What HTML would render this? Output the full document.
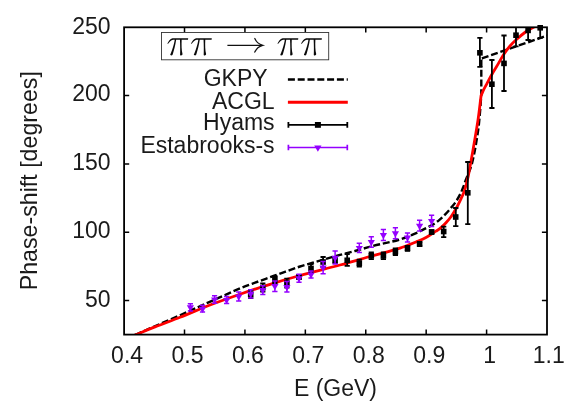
<!DOCTYPE html>
<html><head><meta charset="utf-8"><title>pipi phase shift</title>
<style>html,body{margin:0;padding:0;background:#fff;}body{width:581px;height:407px;overflow:hidden;font-family:"Liberation Sans",sans-serif;}svg{display:block;will-change:transform;}</style>
</head><body>
<svg width="581" height="407" viewBox="0 0 581 407">
<rect x="0" y="0" width="581" height="407" fill="#fff"/>
<defs><clipPath id="cp"><rect x="124.10" y="27.30" width="422.90" height="307.30"/></clipPath></defs>
<g clip-path="url(#cp)" fill="none" stroke-linejoin="round">
<path d="M126.00 338.80C129.33 337.37 132.67 335.95 136.00 334.50C144.01 331.01 152.00 327.49 160.00 324.00C166.66 321.09 173.36 318.26 180.00 315.30C187.36 312.02 194.65 308.61 202.00 305.30C209.99 301.71 218.00 298.16 226.00 294.60C230.66 292.53 235.29 290.36 240.00 288.40C243.95 286.76 247.98 285.28 252.00 283.80C259.65 280.98 267.33 278.26 275.00 275.50C283.33 272.50 291.61 269.33 300.00 266.50C303.95 265.17 308.00 264.16 312.00 263.00C321.33 260.29 330.64 257.51 340.00 254.90C344.98 253.51 350.01 252.36 355.00 251.00C360.68 249.46 366.30 247.66 372.00 246.20C381.30 243.82 390.81 242.19 400.00 239.50C405.14 237.99 410.08 235.75 415.00 233.60C419.22 231.75 423.31 229.62 427.40 227.50C429.98 226.16 432.57 224.78 435.00 223.20C436.77 222.05 438.40 220.68 440.00 219.30C441.73 217.81 443.41 216.24 445.00 214.60C447.05 212.48 449.00 210.26 450.90 208.00C452.67 205.89 454.48 203.79 456.00 201.50C457.68 198.99 459.13 196.30 460.50 193.60C461.53 191.57 462.38 189.43 463.20 187.30C464.08 185.03 464.76 182.69 465.60 180.40C467.69 174.72 470.51 169.25 472.00 163.40C474.61 153.11 476.28 142.52 477.90 132.00C479.02 124.72 479.54 117.34 480.20 110.00C480.68 104.68 480.93 99.33 481.30 94.00L481.3 60.0L480.4 58.9L546.0 36.0L552.0 33.9" stroke="#000" stroke-width="2.4" stroke-dasharray="7 2.8"/>
<path d="M126.00 339.00C129.43 337.55 132.86 336.09 136.30 334.65C142.53 332.05 148.73 329.39 155.00 326.90C163.30 323.61 171.71 320.60 180.00 317.30C190.04 313.30 199.92 308.88 210.00 305.00C219.92 301.18 229.95 297.67 240.00 294.20C249.95 290.77 259.95 287.43 270.00 284.30C279.95 281.20 289.95 278.27 300.00 275.50C313.29 271.84 326.69 268.60 340.00 265.00C350.69 262.10 361.33 258.99 372.00 256.00C381.33 253.39 390.78 251.13 400.00 248.20C405.44 246.47 410.70 244.16 416.00 242.00C419.37 240.63 422.81 239.33 426.00 237.60C429.47 235.73 432.71 233.39 436.00 231.20C437.71 230.06 439.44 228.93 441.00 227.60C442.77 226.09 444.42 224.41 446.00 222.70C447.75 220.81 449.50 218.89 451.00 216.80C452.83 214.25 454.47 211.55 456.00 208.80C457.81 205.55 459.39 202.16 461.00 198.80C461.99 196.73 462.99 194.65 463.80 192.50C464.66 190.21 465.36 187.86 466.00 185.50C466.86 182.36 467.63 179.19 468.30 176.00C469.06 172.35 469.64 168.67 470.30 165.00C471.20 160.00 472.14 155.01 473.00 150.00C474.71 140.01 476.51 130.03 478.00 120.00C479.21 111.86 480.07 103.67 481.10 95.50L481.10 95.80C481.80 94.07 482.42 92.30 483.20 90.60C483.99 88.90 484.91 87.26 485.80 85.60C487.75 81.96 489.65 78.29 491.70 74.70C493.59 71.39 495.65 68.18 497.60 64.90C499.75 61.28 501.69 57.52 504.00 54.00C505.83 51.22 507.82 48.51 510.00 46.00C512.16 43.51 514.55 41.21 517.00 39.00C519.72 36.54 522.55 34.17 525.50 32.00C527.55 30.50 529.76 29.19 532.00 28.00C534.59 26.62 537.33 25.53 540.00 24.30" stroke="#ff0000" stroke-width="2.8"/>
</g>
<g stroke="#000" stroke-width="1.8" fill="#000">
<path d="M250.7 290.4V298.0M248.1 290.4H253.3M248.1 298.0H253.3" fill="none"/>
<rect x="247.9" y="291.4" width="5.6" height="5.6" stroke="none"/>
<path d="M262.8 283.4V291.5M260.2 283.4H265.4M260.2 291.5H265.4" fill="none"/>
<rect x="260.0" y="284.7" width="5.6" height="5.6" stroke="none"/>
<path d="M274.9 276.2V283.0M272.2 276.2H277.5M272.2 283.0H277.5" fill="none"/>
<rect x="272.1" y="276.4" width="5.6" height="5.6" stroke="none"/>
<path d="M286.9 278.7V287.5M284.3 278.7H289.5M284.3 287.5H289.5" fill="none"/>
<rect x="284.1" y="280.2" width="5.6" height="5.6" stroke="none"/>
<path d="M299.0 275.0V279.0M296.4 275.0H301.6M296.4 279.0H301.6" fill="none"/>
<rect x="296.2" y="274.2" width="5.6" height="5.6" stroke="none"/>
<path d="M311.0 264.0V272.5M308.4 264.0H313.6M308.4 272.5H313.6" fill="none"/>
<rect x="308.2" y="265.6" width="5.6" height="5.6" stroke="none"/>
<path d="M323.1 257.0V267.0M320.5 257.0H325.7M320.5 267.0H325.7" fill="none"/>
<rect x="320.3" y="259.2" width="5.6" height="5.6" stroke="none"/>
<path d="M335.1 257.0V263.0M332.5 257.0H337.8M332.5 263.0H337.8" fill="none"/>
<rect x="332.3" y="257.2" width="5.6" height="5.6" stroke="none"/>
<path d="M347.2 254.2V265.8M344.6 254.2H349.8M344.6 265.8H349.8" fill="none"/>
<rect x="344.4" y="257.5" width="5.6" height="5.6" stroke="none"/>
<path d="M359.3 259.7V266.7M356.7 259.7H361.9M356.7 266.7H361.9" fill="none"/>
<rect x="356.5" y="260.4" width="5.6" height="5.6" stroke="none"/>
<path d="M371.3 252.5V259.1M368.7 252.5H373.9M368.7 259.1H373.9" fill="none"/>
<rect x="368.5" y="253.0" width="5.6" height="5.6" stroke="none"/>
<path d="M383.4 252.5V259.1M380.8 252.5H386.0M380.8 259.1H386.0" fill="none"/>
<rect x="380.6" y="253.0" width="5.6" height="5.6" stroke="none"/>
<path d="M395.4 248.3V255.0M392.8 248.3H398.0M392.8 255.0H398.0" fill="none"/>
<rect x="392.6" y="248.9" width="5.6" height="5.6" stroke="none"/>
<path d="M407.5 246.0V250.9M404.9 246.0H410.1M404.9 250.9H410.1" fill="none"/>
<rect x="404.7" y="245.6" width="5.6" height="5.6" stroke="none"/>
<path d="M419.6 242.0V246.0M417.0 242.0H422.2M417.0 246.0H422.2" fill="none"/>
<rect x="416.8" y="241.2" width="5.6" height="5.6" stroke="none"/>
<path d="M431.6 230.2V233.8M429.0 230.2H434.2M429.0 233.8H434.2" fill="none"/>
<rect x="428.8" y="229.2" width="5.6" height="5.6" stroke="none"/>
<path d="M443.7 226.6V237.1M441.1 226.6H446.3M441.1 237.1H446.3" fill="none"/>
<rect x="440.9" y="228.7" width="5.6" height="5.6" stroke="none"/>
<path d="M455.8 208.0V226.2M453.1 208.0H458.4M453.1 226.2H458.4" fill="none"/>
<rect x="452.9" y="214.2" width="5.6" height="5.6" stroke="none"/>
<path d="M467.8 162.0V224.2M465.2 162.0H470.4M465.2 224.2H470.4" fill="none"/>
<rect x="465.0" y="190.0" width="5.6" height="5.6" stroke="none"/>
<path d="M479.9 37.8V66.8M477.3 37.8H482.5M477.3 66.8H482.5" fill="none"/>
<rect x="477.1" y="50.0" width="5.6" height="5.6" stroke="none"/>
<path d="M491.9 60.0V108.0M489.3 60.0H494.5M489.3 108.0H494.5" fill="none"/>
<rect x="489.1" y="81.4" width="5.6" height="5.6" stroke="none"/>
<path d="M504.0 35.5V91.0M501.4 35.5H506.6M501.4 91.0H506.6" fill="none"/>
<rect x="501.2" y="60.6" width="5.6" height="5.6" stroke="none"/>
<path d="M516.0 27.3V46.4M513.4 46.4H518.6" fill="none"/>
<rect x="513.2" y="32.4" width="5.6" height="5.6" stroke="none"/>
<path d="M528.1 27.3V40.0M525.5 40.0H530.7" fill="none"/>
<rect x="525.3" y="27.6" width="5.6" height="5.6" stroke="none"/>
<path d="M540.2 27.3V37.8M537.6 37.8H542.8" fill="none"/>
<rect x="537.4" y="25.0" width="5.6" height="5.6" stroke="none"/>
</g>
<g stroke="#9400ff" stroke-width="1.5" fill="#9400ff">
<path d="M190.4 303.7V310.9M187.8 303.7H193.0M187.8 310.9H193.0" fill="none"/>
<path d="M186.8 305.3L194.0 305.3L190.4 311.5Z" stroke="none"/>
<path d="M202.5 305.3V312.1M199.9 305.3H205.1M199.9 312.1H205.1" fill="none"/>
<path d="M198.9 306.7L206.1 306.7L202.5 312.9Z" stroke="none"/>
<path d="M214.6 295.7V303.2M212.0 295.7H217.2M212.0 303.2H217.2" fill="none"/>
<path d="M211.0 297.4L218.2 297.4L214.6 303.6Z" stroke="none"/>
<path d="M226.6 296.6V303.5M224.0 296.6H229.2M224.0 303.5H229.2" fill="none"/>
<path d="M223.0 298.0L230.2 298.0L226.6 304.2Z" stroke="none"/>
<path d="M238.7 292.0V301.0M236.1 292.0H241.3M236.1 301.0H241.3" fill="none"/>
<path d="M235.1 294.5L242.3 294.5L238.7 300.7Z" stroke="none"/>
<path d="M250.7 289.8V298.0M248.1 289.8H253.3M248.1 298.0H253.3" fill="none"/>
<path d="M247.1 291.8L254.3 291.8L250.7 298.0Z" stroke="none"/>
<path d="M262.8 285.8V294.4M260.2 285.8H265.4M260.2 294.4H265.4" fill="none"/>
<path d="M259.2 288.0L266.4 288.0L262.8 294.2Z" stroke="none"/>
<path d="M274.9 281.0V291.5M272.2 281.0H277.5M272.2 291.5H277.5" fill="none"/>
<path d="M271.2 284.0L278.5 284.0L274.9 290.2Z" stroke="none"/>
<path d="M286.9 281.6V292.0M284.3 281.6H289.5M284.3 292.0H289.5" fill="none"/>
<path d="M283.3 285.0L290.5 285.0L286.9 291.2Z" stroke="none"/>
<path d="M299.0 274.3V282.3M296.4 274.3H301.6M296.4 282.3H301.6" fill="none"/>
<path d="M295.4 276.2L302.6 276.2L299.0 282.4Z" stroke="none"/>
<path d="M311.0 271.0V278.0M308.4 271.0H313.6M308.4 278.0H313.6" fill="none"/>
<path d="M307.4 272.5L314.6 272.5L311.0 278.7Z" stroke="none"/>
<path d="M323.1 261.6V273.7M320.5 261.6H325.7M320.5 273.7H325.7" fill="none"/>
<path d="M319.5 265.6L326.7 265.6L323.1 271.8Z" stroke="none"/>
<path d="M335.1 251.0V264.0M332.5 251.0H337.8M332.5 264.0H337.8" fill="none"/>
<path d="M331.5 255.8L338.8 255.8L335.1 262.0Z" stroke="none"/>
<path d="M359.3 243.2V252.5M356.7 243.2H361.9M356.7 252.5H361.9" fill="none"/>
<path d="M355.7 245.9L362.9 245.9L359.3 252.1Z" stroke="none"/>
<path d="M371.3 236.8V247.2M368.7 236.8H373.9M368.7 247.2H373.9" fill="none"/>
<path d="M367.7 240.0L374.9 240.0L371.3 246.2Z" stroke="none"/>
<path d="M383.4 229.4V240.4M380.8 229.4H386.0M380.8 240.4H386.0" fill="none"/>
<path d="M379.8 233.0L387.0 233.0L383.4 239.2Z" stroke="none"/>
<path d="M395.4 227.8V238.8M392.8 227.8H398.0M392.8 238.8H398.0" fill="none"/>
<path d="M391.8 231.3L399.0 231.3L395.4 237.5Z" stroke="none"/>
<path d="M407.5 233.1V241.9M404.9 233.1H410.1M404.9 241.9H410.1" fill="none"/>
<path d="M403.9 235.5L411.1 235.5L407.5 241.7Z" stroke="none"/>
<path d="M419.6 220.2V231.1M417.0 220.2H422.2M417.0 231.1H422.2" fill="none"/>
<path d="M416.0 223.8L423.2 223.8L419.6 230.0Z" stroke="none"/>
<path d="M431.6 215.2V226.5M429.0 215.2H434.2M429.0 226.5H434.2" fill="none"/>
<path d="M428.0 219.0L435.2 219.0L431.6 225.2Z" stroke="none"/>
</g>
<g stroke="#000" stroke-width="1.8" fill="none">
<rect x="124.10" y="27.30" width="422.90" height="307.30"/>
<path d="M184.51 334.60v-5.10M184.51 27.30v5.10M244.93 334.60v-5.10M244.93 27.30v5.10M305.34 334.60v-5.10M305.34 27.30v5.10M365.76 334.60v-5.10M365.76 27.30v5.10M426.17 334.60v-5.10M426.17 27.30v5.10M486.59 334.60v-5.10M486.59 27.30v5.10M124.10 300.46h5.10M547.00 300.46h-5.10M124.10 232.17h5.10M547.00 232.17h-5.10M124.10 163.88h5.10M547.00 163.88h-5.10M124.10 95.59h5.10M547.00 95.59h-5.10" stroke-width="1.5"/>
</g>
<g font-family="Liberation Sans, sans-serif" font-size="23" fill="#1a1a1a">
<text x="127.1" y="363" text-anchor="middle">0.4</text>
<text x="187.5" y="363" text-anchor="middle">0.5</text>
<text x="247.9" y="363" text-anchor="middle">0.6</text>
<text x="308.3" y="363" text-anchor="middle">0.7</text>
<text x="368.8" y="363" text-anchor="middle">0.8</text>
<text x="429.2" y="363" text-anchor="middle">0.9</text>
<text x="489.6" y="363" text-anchor="middle">1</text>
<text x="548.8" y="363" text-anchor="middle">1.1</text>
<text x="110.5" y="307" text-anchor="end">50</text>
<text x="110.5" y="238" text-anchor="end">100</text>
<text x="110.5" y="170" text-anchor="end">150</text>
<text x="110.5" y="101" text-anchor="end">200</text>
<text x="110.5" y="34" text-anchor="end">250</text>
<text x="335.5" y="396.4" text-anchor="middle">E (GeV)</text>
<text transform="translate(37.2 180.7) rotate(-90)" text-anchor="middle" font-size="23.2">Phase-shift [degrees]</text>
<text x="267.6" y="86.0" text-anchor="end">GKPY</text>
<text x="274.6" y="109.0" text-anchor="end">ACGL</text>
<text x="274.6" y="130.0" text-anchor="end">Hyams</text>
<text x="274.6" y="153.0" text-anchor="end">Estabrooks-s</text>
</g>
<path d="M287.9 79.5H347.8" stroke="#000" stroke-width="2.4" stroke-dasharray="7 2.8" fill="none"/>
<path d="M287.9 102.2H347.8" stroke="#ff0000" stroke-width="2.9" fill="none"/>
<path d="M287.9 124.9H347.8M288.4 122.1v5.6M347.3 122.1v5.6" stroke="#000" stroke-width="1.8" fill="none"/>
<rect x="314.9" y="122.0" width="6" height="5.8" fill="#000"/>
<path d="M287.9 147.5H347.8M288.4 144.7v5.6M347.3 144.7v5.6" stroke="#9400ff" stroke-width="1.7" fill="none"/>
<path d="M314.2 145.5L321.5 145.5L317.9 151.7Z" fill="#9400ff"/>
<rect x="161.5" y="32.5" width="167.2" height="27.3" fill="#fff" stroke="#333" stroke-width="0.9"/>
<path transform="translate(163.92 34) scale(0.06143)" d="M55 158C75 120 100 80 140 70L395 70L392 95L150 95C115 100 90 130 68 160ZM176 94L199 94C187 180 162 270 143 335C133 357 103 353 103 335C129 280 164 180 176 94ZM261 94L289 94C285 180 287 270 302 320C307 346 275 357 263 340C267 270 265 180 261 94Z" fill="#0a0a0a"/>
<path transform="translate(187.52 34) scale(0.06143)" d="M55 158C75 120 100 80 140 70L395 70L392 95L150 95C115 100 90 130 68 160ZM176 94L199 94C187 180 162 270 143 335C133 357 103 353 103 335C129 280 164 180 176 94ZM261 94L289 94C285 180 287 270 302 320C307 346 275 357 263 340C267 270 265 180 261 94Z" fill="#0a0a0a"/>
<path transform="translate(274.02 34) scale(0.06143)" d="M55 158C75 120 100 80 140 70L395 70L392 95L150 95C115 100 90 130 68 160ZM176 94L199 94C187 180 162 270 143 335C133 357 103 353 103 335C129 280 164 180 176 94ZM261 94L289 94C285 180 287 270 302 320C307 346 275 357 263 340C267 270 265 180 261 94Z" fill="#0a0a0a"/>
<path transform="translate(297.62 34) scale(0.06143)" d="M55 158C75 120 100 80 140 70L395 70L392 95L150 95C115 100 90 130 68 160ZM176 94L199 94C187 180 162 270 143 335C133 357 103 353 103 335C129 280 164 180 176 94ZM261 94L289 94C285 180 287 270 302 320C307 346 275 357 263 340C267 270 265 180 261 94Z" fill="#0a0a0a"/>
<path d="M227.4 45.3H262.2" stroke="#111" stroke-width="1.25" fill="none"/>
<path d="M254.8 38.5C256.3 42 259.3 44.4 262.7 45.3C259.3 46.2 256.3 48.6 254.8 52.1" stroke="#111" stroke-width="1.25" fill="none" stroke-linecap="round"/>
</svg>
</body></html>
